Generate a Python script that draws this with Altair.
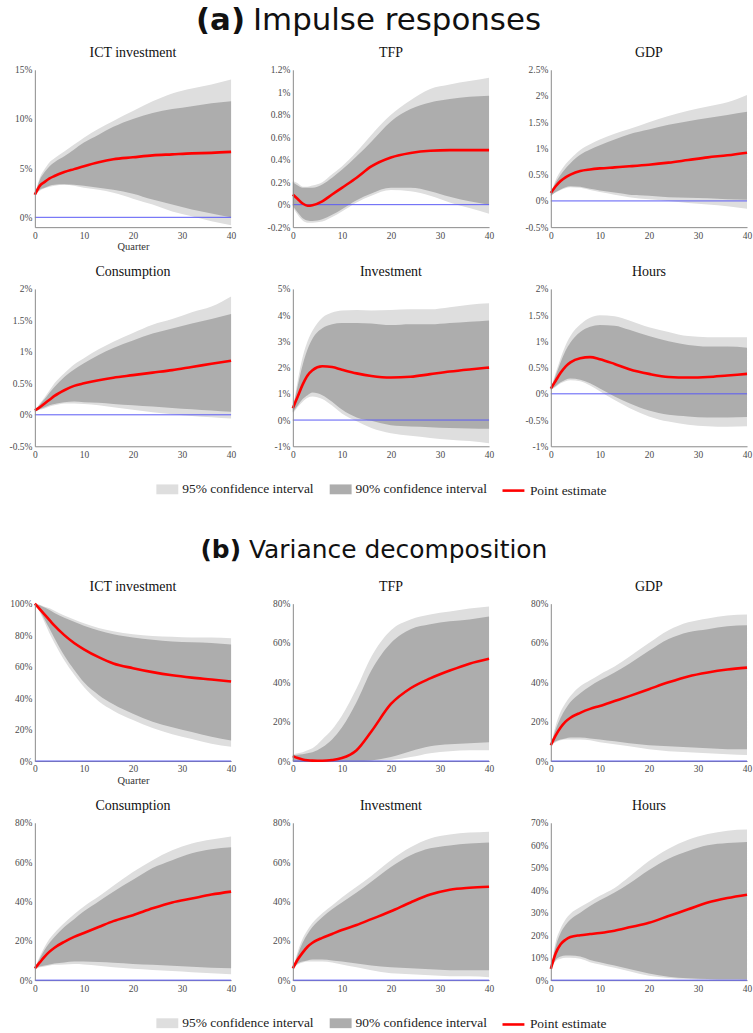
import altair as alt
import pandas as pd

# Horizon (quarters) at which the responses are tabulated
QUARTERS = [0, 1, 2, 3, 4, 6, 8, 10, 13, 16, 20, 24, 28, 32, 36, 40]
X_TICKS = [0, 10, 20, 30, 40]

CI95 = "95% confidence interval"
CI90 = "90% confidence interval"
POINT = "Point estimate"

# ---------------- (a) Impulse responses, percent ----------------
IRF_ICT_PT = [2.3, 3.2, 3.6, 3.95, 4.2, 4.6, 4.9, 5.2, 5.6, 5.9, 6.1, 6.3, 6.4, 6.5, 6.55, 6.65]
IRF_ICT_HI90 = [2.3, 3.8, 4.6, 5.2, 5.6, 6.2, 6.9, 7.6, 8.4, 9.2, 10.0, 10.6, 11.0, 11.3, 11.6, 11.8]
IRF_ICT_HI95 = [2.3, 4.0, 4.9, 5.6, 6.0, 6.7, 7.4, 8.1, 9.0, 9.8, 10.8, 11.8, 12.6, 13.1, 13.5, 14.0]
IRF_ICT_LO90 = [2.3, 2.8, 3.0, 3.2, 3.3, 3.35, 3.3, 3.2, 3.0, 2.8, 2.4, 1.8, 1.3, 0.8, 0.4, 0.0]
IRF_ICT_LO95 = [2.3, 2.7, 2.95, 3.1, 3.2, 3.3, 3.2, 3.0, 2.8, 2.5, 1.9, 1.3, 0.6, 0.1, -0.4, -0.8]

IRF_TFP_PT = [0.09, 0.05, 0.01, -0.01, -0.005, 0.03, 0.09, 0.15, 0.24, 0.34, 0.42, 0.46, 0.48, 0.485, 0.485, 0.485]
IRF_TFP_HI90 = [0.2, 0.17, 0.15, 0.15, 0.15, 0.18, 0.24, 0.31, 0.43, 0.56, 0.74, 0.85, 0.91, 0.94, 0.96, 0.97]
IRF_TFP_HI95 = [0.21, 0.19, 0.16, 0.16, 0.17, 0.2, 0.27, 0.34, 0.47, 0.62, 0.8, 0.93, 1.03, 1.07, 1.1, 1.13]
IRF_TFP_LO90 = [-0.01, -0.07, -0.12, -0.14, -0.145, -0.13, -0.09, -0.04, 0.04, 0.1, 0.15, 0.15, 0.12, 0.07, 0.03, 0.0]
IRF_TFP_LO95 = [-0.02, -0.09, -0.14, -0.16, -0.16, -0.15, -0.11, -0.06, 0.02, 0.08, 0.13, 0.12, 0.08, 0.02, -0.03, -0.08]

IRF_GDP_PT = [0.15, 0.28, 0.38, 0.45, 0.5, 0.57, 0.6, 0.62, 0.64, 0.66, 0.69, 0.73, 0.78, 0.83, 0.87, 0.92]
IRF_GDP_HI90 = [0.15, 0.35, 0.5, 0.62, 0.72, 0.88, 0.98, 1.06, 1.17, 1.27, 1.36, 1.45, 1.52, 1.58, 1.64, 1.7]
IRF_GDP_HI95 = [0.15, 0.4, 0.57, 0.7, 0.8, 0.97, 1.08, 1.17, 1.28, 1.37, 1.5, 1.62, 1.72, 1.8, 1.88, 2.02]
IRF_GDP_LO90 = [0.1, 0.17, 0.22, 0.26, 0.28, 0.27, 0.23, 0.2, 0.16, 0.12, 0.1, 0.07, 0.06, 0.05, 0.03, 0.02]
IRF_GDP_LO95 = [0.1, 0.16, 0.21, 0.24, 0.26, 0.25, 0.21, 0.17, 0.12, 0.07, 0.03, 0.0, -0.04, -0.07, -0.1, -0.15]

IRF_CONS_PT = [0.07, 0.12, 0.18, 0.24, 0.3, 0.39, 0.46, 0.5, 0.55, 0.59, 0.63, 0.67, 0.71, 0.76, 0.81, 0.86]
IRF_CONS_HI90 = [0.07, 0.16, 0.25, 0.35, 0.44, 0.6, 0.72, 0.82, 0.95, 1.06, 1.18, 1.29, 1.37, 1.45, 1.52, 1.6]
IRF_CONS_HI95 = [0.07, 0.18, 0.28, 0.39, 0.5, 0.66, 0.8, 0.9, 1.04, 1.16, 1.3, 1.43, 1.52, 1.63, 1.72, 1.88]
IRF_CONS_LO90 = [0.05, 0.09, 0.12, 0.15, 0.17, 0.2, 0.21, 0.2, 0.19, 0.17, 0.15, 0.13, 0.11, 0.09, 0.07, 0.05]
IRF_CONS_LO95 = [0.05, 0.08, 0.1, 0.13, 0.15, 0.18, 0.18, 0.17, 0.15, 0.12, 0.08, 0.04, 0.01, -0.02, -0.04, -0.06]

IRF_INV_PT = [0.45, 0.9, 1.35, 1.7, 1.9, 2.05, 2.02, 1.92, 1.78, 1.68, 1.62, 1.65, 1.75, 1.85, 1.93, 2.0]
IRF_INV_HI90 = [0.45, 1.3, 2.1, 2.7, 3.1, 3.5, 3.65, 3.7, 3.7, 3.68, 3.62, 3.65, 3.65, 3.7, 3.75, 3.8]
IRF_INV_HI95 = [0.45, 1.5, 2.4, 3.0, 3.4, 3.9, 4.1, 4.18, 4.2, 4.18, 4.2, 4.22, 4.22, 4.3, 4.4, 4.45]
IRF_INV_LO90 = [0.3, 0.55, 0.8, 0.95, 1.05, 0.95, 0.7, 0.4, 0.1, -0.03, -0.2, -0.25, -0.27, -0.3, -0.32, -0.33]
IRF_INV_LO95 = [0.25, 0.5, 0.7, 0.85, 0.9, 0.8, 0.55, 0.25, -0.05, -0.3, -0.5, -0.6, -0.68, -0.75, -0.8, -0.88]

IRF_HOURS_PT = [0.1, 0.25, 0.4, 0.52, 0.6, 0.68, 0.7, 0.66, 0.57, 0.47, 0.38, 0.32, 0.31, 0.32, 0.35, 0.38]
IRF_HOURS_HI90 = [0.1, 0.35, 0.6, 0.82, 0.98, 1.18, 1.28, 1.31, 1.3, 1.22, 1.1, 1.0, 0.93, 0.9, 0.9, 0.88]
IRF_HOURS_HI95 = [0.1, 0.4, 0.68, 0.92, 1.1, 1.32, 1.45, 1.5, 1.48, 1.4, 1.27, 1.18, 1.1, 1.08, 1.08, 1.08]
IRF_HOURS_LO90 = [0.08, 0.15, 0.22, 0.27, 0.29, 0.27, 0.2, 0.1, -0.05, -0.18, -0.32, -0.4, -0.43, -0.45, -0.45, -0.44]
IRF_HOURS_LO95 = [0.08, 0.13, 0.2, 0.24, 0.26, 0.24, 0.16, 0.05, -0.12, -0.27, -0.43, -0.53, -0.59, -0.62, -0.63, -0.62]

# ---------------- (b) Variance decomposition, percent ----------------
FEV_ICT_PT = [100, 96.5, 93, 89.5, 86, 80, 75, 71, 66, 62, 59, 56.5, 54.5, 53, 51.8, 50.5]
FEV_ICT_HI90 = [100, 99, 97.5, 96, 94, 91, 88.5, 86, 83, 80.5, 78.5, 77, 76, 75.5, 75, 74]
FEV_ICT_HI95 = [100, 99.3, 98, 97, 95.5, 92.5, 90, 87.5, 84.5, 82.5, 80.5, 79.5, 79, 78.5, 78.5, 78]
FEV_ICT_LO90 = [100, 95.5, 90, 84, 78, 67, 58, 50, 42, 36, 30, 25, 21.5, 18.5, 15.5, 13]
FEV_ICT_LO95 = [100, 94.5, 88, 81, 75, 64, 55, 47, 38, 32, 26, 21, 17, 14, 11, 9]

FEV_TFP_PT = [2.5, 1.5, 0.8, 0.4, 0.2, 0.1, 0.5, 1.5, 5.5, 15, 29, 37, 42, 46, 49.5, 52]
FEV_TFP_HI90 = [3, 3.2, 3.5, 4, 4.5, 7, 11, 17, 30, 46, 60, 67, 69.5, 71, 72, 73.5]
FEV_TFP_HI95 = [3.5, 4, 4.5, 5.5, 6.5, 11, 16, 23, 37, 53, 66.5, 72, 74.5, 76, 77.5, 78.5]
FEV_TFP_LO90 = [0, 0, 0, 0, 0, 0, 0, 0, 0, 0.3, 2, 5, 7.5, 8.5, 9, 9.5]
FEV_TFP_LO95 = [0, 0, 0, 0, 0, 0, 0, 0, 0, 0, 0.5, 2, 4, 5, 5.5, 5.5]

FEV_GDP_PT = [8, 13, 17, 20, 22, 24.5, 26.5, 28, 30.5, 33, 36.5, 40, 43, 45, 46.5, 47.5]
FEV_GDP_HI90 = [8, 16, 22, 26.5, 30, 34.5, 38, 41, 45, 49.5, 56, 62, 65.5, 67, 68.5, 69]
FEV_GDP_HI95 = [8, 18, 25, 29.5, 33, 38, 41, 44, 48, 53, 60, 66.5, 70.5, 72.5, 74, 74.5]
FEV_GDP_LO90 = [8, 10, 11, 11.5, 12, 12, 11.5, 11, 10, 9, 8, 7.5, 7, 6.5, 6, 6]
FEV_GDP_LO95 = [8, 9.5, 10.5, 11, 11, 11, 10.5, 9.5, 8.5, 7.5, 6, 5, 4.5, 4, 3.5, 3]

FEV_CONS_PT = [6, 9, 12, 14.5, 16.5, 19.5, 22, 24, 27, 30, 33, 36.5, 39.5, 41.5, 43.5, 45]
FEV_CONS_HI90 = [6, 11, 15.5, 19, 22, 27, 31, 35, 40, 45, 51, 57, 61, 64.5, 66.5, 67.5]
FEV_CONS_HI95 = [6, 12, 17, 21, 24, 29, 33.5, 37.5, 42.5, 48, 55, 61, 66, 69.5, 71.5, 73]
FEV_CONS_LO90 = [6, 7, 7.5, 8, 8.5, 9, 9.5, 9.5, 9.2, 8.8, 8.2, 7.8, 7.3, 6.8, 6.3, 6]
FEV_CONS_LO95 = [5.5, 6.5, 7, 7.5, 7.8, 8, 8.2, 8, 7.3, 6.5, 5.8, 5.2, 4.6, 4, 3.5, 3]

FEV_INV_PT = [6, 10.5, 14, 17, 19, 21.5, 23.5, 25.5, 28, 31, 35, 39.5, 43.5, 46, 47, 47.5]
FEV_INV_HI90 = [6, 13, 19, 23.5, 27, 32, 36, 39.5, 44.5, 50, 57.5, 63.5, 67, 68.5, 69.5, 70]
FEV_INV_HI95 = [6, 14.5, 21, 25.5, 29, 34, 38, 42, 47.5, 53, 61, 67.5, 72, 74, 75, 75.5]
FEV_INV_LO90 = [6, 8.5, 9.5, 10, 10.5, 10.5, 10, 9.5, 8.5, 7.5, 6.5, 6, 5.5, 5, 5, 5]
FEV_INV_LO95 = [6, 8, 9, 9.5, 9.5, 9.5, 9, 8, 6.5, 5, 3.5, 3, 2.5, 2, 2, 1.5]

FEV_HOURS_PT = [5, 12, 16, 18, 19.2, 20, 20.5, 21, 22, 23.5, 25.5, 28.5, 31.5, 34.5, 36.5, 38]
FEV_HOURS_HI90 = [5, 15, 21, 24.5, 27, 30, 33, 35.5, 39, 43, 49, 54, 57.5, 60, 61, 61.5]
FEV_HOURS_HI95 = [5, 17, 23, 27, 29.5, 32.5, 35, 37.5, 41, 46, 53, 58.5, 62.5, 65, 66.5, 67]
FEV_HOURS_LO90 = [5, 9, 10.5, 11, 11, 10.5, 9, 8, 6.5, 5, 3, 1.5, 0.8, 0.5, 0.4, 0.3]
FEV_HOURS_LO95 = [5, 8.5, 9.5, 10, 10, 9.5, 8, 7, 5.5, 4, 2, 1, 0.5, 0.2, 0.1, 0.1]

SERIF = "Liberation Serif"
SANS = "DejaVu Sans"
LIGHT = "#dedede"
DARK = "#adadad"
RED = "#ff0000"
BLUE = "#5a5af5"
AXIS_GREY = "#8a8a8a"

PANEL_W = 197
PANEL_H = 158
GAP = 62

RECT_SYMBOL = "M-1,-0.45H1V0.45H-1Z"


def panel(title, pt, lo90, hi90, lo95, hi95, domain, ticks, quarter=False, legend=False):
    n = len(QUARTERS)
    bands = pd.DataFrame({
        "q": QUARTERS * 2,
        "lo": lo95 + lo90,
        "hi": hi95 + hi90,
        "band": [CI95] * n + [CI90] * n,
    })
    line = pd.DataFrame({"q": QUARTERS, "v": pt, "series": [POINT] * n})
    zero = pd.DataFrame({"z": [0]})

    x = alt.X(
        "q:Q",
        scale=alt.Scale(domain=[0, 40], nice=False, zero=False),
        axis=alt.Axis(values=X_TICKS, title="Quarter" if quarter else None, zindex=0),
    )
    yscale = alt.Scale(domain=domain, nice=False, zero=False)
    yaxis = alt.Axis(values=ticks, labelExpr="datum.value + '%'", title=None,
                     minExtent=35, zindex=1)

    fill_legend = alt.Legend(
        orient="none", legendX=-137, legendY=190, direction="horizontal",
        title=None, symbolType=RECT_SYMBOL, symbolSize=484, symbolStrokeWidth=0,
        labelFont=SERIF, labelFontSize=13.5, labelColor="#222222",
        labelOffset=4, columnPadding=16,
    ) if legend else None
    stroke_legend = alt.Legend(
        orient="none", legendX=209, legendY=190, title=None,
        symbolType="stroke", symbolSize=484, symbolStrokeWidth=2.6,
        labelFont=SERIF, labelFontSize=13.5, labelColor="#222222", labelOffset=4,
    ) if legend else None

    fill = alt.Fill("band:N", scale=alt.Scale(domain=[CI95, CI90], range=[LIGHT, DARK]),
                    legend=fill_legend)
    base = alt.Chart(bands).encode(
        x=x,
        y=alt.Y("lo:Q", scale=yscale, axis=yaxis),
        y2="hi:Q",
        fill=fill,
    )
    wide = base.transform_filter(alt.datum.band == CI95).mark_area(interpolate="monotone")
    narrow = base.transform_filter(alt.datum.band == CI90).mark_area(interpolate="monotone")
    zero_line = alt.Chart(zero).mark_rule(color=BLUE, strokeWidth=1).encode(
        y=alt.Y("z:Q", scale=yscale, axis=yaxis)
    )
    estimate = alt.Chart(line).mark_line(interpolate="monotone", strokeWidth=2.6).encode(
        x=x,
        y=alt.Y("v:Q", scale=yscale, axis=yaxis),
        stroke=alt.Stroke("series:N", scale=alt.Scale(domain=[POINT], range=[RED]),
                          legend=stroke_legend),
    )
    return alt.layer(wide, narrow, zero_line, estimate).properties(
        width=PANEL_W, height=PANEL_H,
        title=alt.TitleParams(title, font=SERIF, fontSize=14, fontWeight="normal",
                              color="#111111", offset=5),
    )


def spacer(height, tag=None, name=None, y=0, split=0, size=29):
    if tag is None:
        return alt.Chart(pd.DataFrame({"t": [""]})).mark_text(baseline="top").encode(
            text="t:N", x=alt.value(10), y=alt.value(20)
        ).properties(width=PANEL_W, height=height)
    head = pd.DataFrame({"tag": [tag], "name": [name]})
    pos = split - 35
    bold = alt.Chart(head).mark_text(
        align="right", baseline="middle", font=SANS, fontSize=size, fontWeight="bold",
        color="#111111",
    ).encode(text="tag:N", x=alt.value(pos - 4), y=alt.value(y))
    rest = alt.Chart(head).mark_text(
        align="left", baseline="middle", font=SANS, fontSize=size, fontWeight="normal",
        color="#111111",
    ).encode(text="name:N", x=alt.value(pos + 4), y=alt.value(y))
    return alt.layer(bold, rest).properties(width=PANEL_W, height=height)


irf_ticks = {
    "ict": [0, 5, 10, 15],
    "tfp": [-0.2, 0, 0.2, 0.4, 0.6, 0.8, 1, 1.2],
    "gdp": [-0.5, 0, 0.5, 1, 1.5, 2, 2.5],
    "cons": [-0.5, 0, 0.5, 1, 1.5, 2],
    "inv": [-1, 0, 1, 2, 3, 4, 5],
    "hours": [-1, -0.5, 0, 0.5, 1, 1.5, 2],
}
share_ticks = [0, 20, 40, 60, 80]

cells = [
    spacer(6, "(a)", "Impulse responses", y=19, split=250, size=31), spacer(6), spacer(6),
    panel("ICT investment", IRF_ICT_PT, IRF_ICT_LO90, IRF_ICT_HI90, IRF_ICT_LO95, IRF_ICT_HI95,
          [-1, 15], irf_ticks["ict"], quarter=True),
    panel("TFP", IRF_TFP_PT, IRF_TFP_LO90, IRF_TFP_HI90, IRF_TFP_LO95, IRF_TFP_HI95,
          [-0.2, 1.2], irf_ticks["tfp"]),
    panel("GDP", IRF_GDP_PT, IRF_GDP_LO90, IRF_GDP_HI90, IRF_GDP_LO95, IRF_GDP_HI95,
          [-0.5, 2.5], irf_ticks["gdp"]),
    panel("Consumption", IRF_CONS_PT, IRF_CONS_LO90, IRF_CONS_HI90, IRF_CONS_LO95, IRF_CONS_HI95,
          [-0.5, 2], irf_ticks["cons"]),
    panel("Investment", IRF_INV_PT, IRF_INV_LO90, IRF_INV_HI90, IRF_INV_LO95, IRF_INV_HI95,
          [-1, 5], irf_ticks["inv"], legend=True),
    panel("Hours", IRF_HOURS_PT, IRF_HOURS_LO90, IRF_HOURS_HI90, IRF_HOURS_LO95, IRF_HOURS_HI95,
          [-1, 2], irf_ticks["hours"]),
    spacer(34, "(b)", "Variance decomposition", y=42, split=246, size=25), spacer(34), spacer(34),
    panel("ICT investment", FEV_ICT_PT, FEV_ICT_LO90, FEV_ICT_HI90, FEV_ICT_LO95, FEV_ICT_HI95,
          [0, 100], [0, 20, 40, 60, 80, 100], quarter=True),
    panel("TFP", FEV_TFP_PT, FEV_TFP_LO90, FEV_TFP_HI90, FEV_TFP_LO95, FEV_TFP_HI95,
          [0, 80], share_ticks),
    panel("GDP", FEV_GDP_PT, FEV_GDP_LO90, FEV_GDP_HI90, FEV_GDP_LO95, FEV_GDP_HI95,
          [0, 80], share_ticks),
    panel("Consumption", FEV_CONS_PT, FEV_CONS_LO90, FEV_CONS_HI90, FEV_CONS_LO95, FEV_CONS_HI95,
          [0, 80], share_ticks),
    panel("Investment", FEV_INV_PT, FEV_INV_LO90, FEV_INV_HI90, FEV_INV_LO95, FEV_INV_HI95,
          [0, 80], share_ticks, legend=True),
    panel("Hours", FEV_HOURS_PT, FEV_HOURS_LO90, FEV_HOURS_HI90, FEV_HOURS_LO95, FEV_HOURS_HI95,
          [0, 70], [0, 10, 20, 30, 40, 50, 60, 70]),
]

chart = alt.concat(*cells, columns=3, spacing=GAP, bounds="flush").resolve_scale(
    fill="independent", stroke="independent"
).resolve_legend(
    fill="independent", stroke="independent"
).properties(
    padding=0
).configure_view(
    stroke=None
).configure_axis(
    domainColor=AXIS_GREY,
    domainWidth=1,
    ticks=False,
    grid=False,
    labelFont=SERIF,
    labelFontSize=9.5,
    labelColor="#4a4a4a",
    labelPadding=3,
    labelFlush=False,
    titleFont=SERIF,
    titleFontSize=10.5,
    titleFontWeight="normal",
    titleColor="#333333",
    titlePadding=2,
)

chart.save("out.html", embed_options={"renderer": "svg", "actions": False})
